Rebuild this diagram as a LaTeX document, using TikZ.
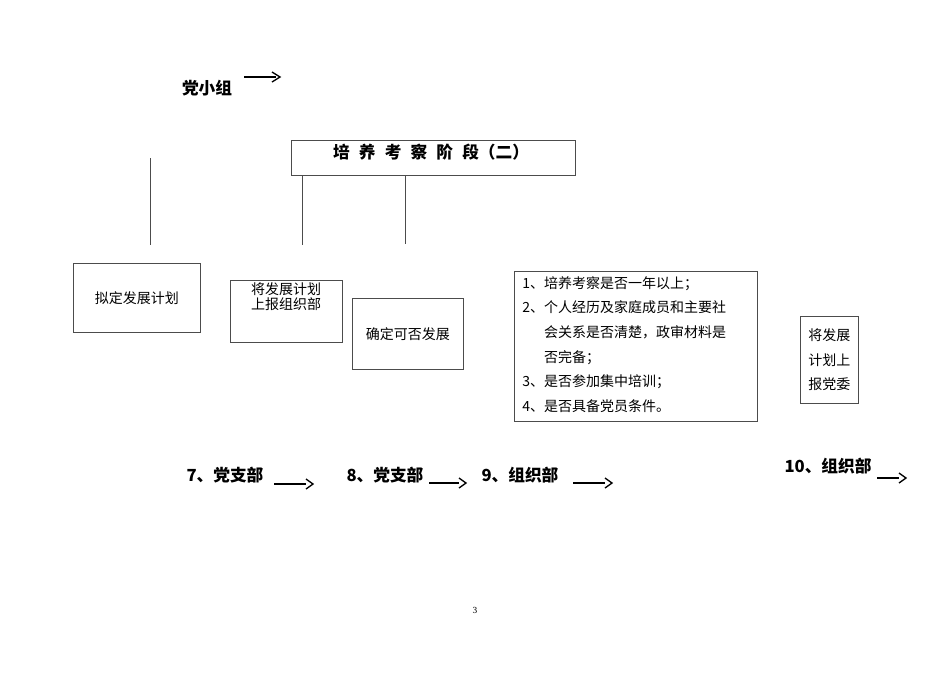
\documentclass[tikz,border=0pt]{standalone}
\usepackage{fontspec}
\setmainfont{Liberation Serif}
\newfontfamily\cjk{Noto Sans CJK SC}
\begin{document}
\begin{tikzpicture}[x=0.75pt,y=-0.75pt,
  bx/.style={draw=black!70,line width=0.6pt,inner sep=0pt},
  lbl/.style={font=\cjk\bfseries\fontsize{12.5}{14}\selectfont,inner sep=0pt},
  txt/.style={font=\cjk\fontsize{10.5}{15}\selectfont,inner sep=0pt,align=center},
  ln/.style={draw=black!70,line width=0.6pt},
  ar/.style={line width=1.6pt},
  tip/.style={line width=1pt}]
\useasboundingbox (0,0) rectangle (950,672);
\node[lbl] (g0) at (207,88) {党小组};
\coordinate (a0s) at (244,77); \coordinate (a0e) at (276,77);
\draw[line width=1.2pt] (a0s) -- (a0e);
\draw[tip] (a0e)++(-4,-5) -- ++(8,5) -- ++(-8,5);
\node[bx,minimum width=213pt,minimum height=26.25pt,anchor=north west] (t) at (291,140) {};
\node[font=\cjk\bfseries\fontsize{12.5}{14}\selectfont] (tt) at (431,152) {培\hspace{0.55em}养\hspace{0.55em}考\hspace{0.55em}察\hspace{0.55em}阶\hspace{0.55em}段（二）};
\coordinate (l1a) at (150,158); \coordinate (l1b) at (150,245);
\draw[ln] (l1a) -- (l1b);
\coordinate (l2b) at (302,245); \coordinate (l3b) at (405,244);
\draw[ln] (t.south west -| l2b) -- (l2b);
\draw[ln] (t.south west -| l3b) -- (l3b);
\node[bx,minimum width=95.25pt,minimum height=51.75pt,anchor=north west] (b1) at (73,263) {};
\node[txt] (b1t) at (b1) {拟定发展计划};
\node[bx,minimum width=84pt,minimum height=46.5pt,anchor=north west] (b2) at (230,280) {};
\node[txt,anchor=north,font=\cjk\fontsize{10.5}{11.5}\selectfont] (b2t) at (286,282) {将发展计划\\上报组织部};
\node[bx,minimum width=83.25pt,minimum height=53.25pt,anchor=north west] (b3) at (352,298) {};
\node[txt] (b3t) at (b3) {确定可否发展};
\node[bx,minimum width=182.25pt,minimum height=112.5pt,anchor=north west] (b4) at (514,271) {};
\node[txt,anchor=north west,align=left,font=\cjk\fontsize{10.5}{18.5}\selectfont] (b4t) at (522,276)
 {1、培养考察是否一年以上；\\2、个人经历及家庭成员和主要社\\\hphantom{2、}会关系是否清楚，政审材料是\\\hphantom{2、}否完备；\\3、是否参加集中培训；\\4、是否具备党员条件。};
\node[bx,minimum width=43.5pt,minimum height=65.25pt,anchor=north west] (b5) at (800,316) {};
\node[txt,font=\cjk\fontsize{10.5}{18.5}\selectfont] (b5t) at (b5) {将发展\\计划上\\报党委};
\node[lbl] (s7) at (225,475) {7、党支部};
\node[lbl] (s8) at (385,475) {8、党支部};
\node[lbl] (s9) at (520,475) {9、组织部};
\node[lbl] (s10) at (828,466) {10、组织部};
\foreach \n/\xa/\xb/\y in {7/274/306/484, 8/429/459/483, 9/573/605/483, 10/877/899/478}{
  \coordinate (as\n) at (\xa,\y); \coordinate (ae\n) at (\xb,\y);
  \draw[ar] (as\n) -- (ae\n);
  \draw[tip] (ae\n)++(0,-5) -- ++(7,5) -- ++(-7,5);
}
\node[font=\fontsize{7}{8}\selectfont] (pg) at (475,610) {3};
\end{tikzpicture}
\end{document}
